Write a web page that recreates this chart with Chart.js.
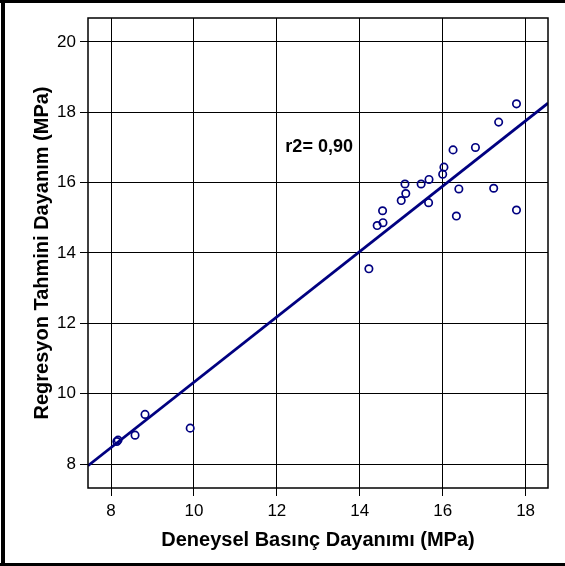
<!DOCTYPE html>
<html>
<head>
<meta charset="utf-8">
<script src="https://cdn.jsdelivr.net/npm/chart.js@4/dist/chart.umd.min.js"></script>
<style>
	html, body { margin: 0; padding: 0; background: #fff; }
	#chart { display: block; }
</style>
</head>
<body>
<canvas id="chart" width="565" height="566"></canvas>
<script>
// measured vs. predicted strength (MPa)
const measured = [8.14, 8.17, 8.58, 8.82, 9.91, 14.22, 14.42, 14.56, 14.55, 15.0, 15.11, 15.09, 15.48, 15.67, 15.66, 16.0, 16.03, 16.25, 16.39, 16.33, 16.79, 17.23, 17.35, 17.78, 17.78]
const predicted = [8.64, 8.68, 8.82, 9.41, 9.02, 13.55, 14.78, 14.86, 15.2, 15.49, 15.69, 15.96, 15.96, 16.09, 15.43, 16.24, 16.44, 16.93, 15.82, 15.05, 17.0, 15.84, 17.72, 18.24, 15.22]

// regression line end points
const fitX = [7.445, 18.54]
const fitY = [7.95, 18.26]

const xTicks = [8, 10, 12, 14, 16, 18]
const yTicks = [8, 10, 12, 14, 16, 18, 20]

const xTitle = 'Deneysel Basınç Dayanımı (MPa)'
const yTitle = 'Regresyon Tahmini Dayanım (MPa)'
const r2Label = 'r2= 0,90'
const r2Pos = [13.02, 17.01]

const navy = '#000080'
const fontFamily = "Arial, 'Liberation Sans', sans-serif"

const framePlugin = {
	id: 'frame',
	afterDatasetsDraw(chart) {
		const { ctx, chartArea: a, scales } = chart
		ctx.save()
		ctx.strokeStyle = '#000'
		ctx.lineWidth = 1.5
		ctx.strokeRect(a.left, a.top, a.right - a.left, a.bottom - a.top)

		ctx.fillStyle = '#000'
		ctx.font = 'bold 18px ' + fontFamily
		ctx.textAlign = 'center'
		ctx.textBaseline = 'middle'
		ctx.fillText(r2Label, scales.x.getPixelForValue(r2Pos[0]), scales.y.getPixelForValue(r2Pos[1]))

		// outer picture border (left, top, bottom)
		ctx.fillRect(0, 0, chart.width, 3)
		ctx.fillRect(1, 0, 4, chart.height)
		ctx.fillRect(0, chart.height - 3, chart.width, 3)
		ctx.restore()
	},
}

const axisTicks = (values) => (scale) => {
	scale.ticks = values.map((v) => ({ value: v }))
}

new Chart(document.getElementById('chart').getContext('2d'), {
	type: 'scatter',
	data: {
		datasets: [
			{
				type: 'line',
				data: fitX.map((x, i) => ({ x: x, y: fitY[i] })),
				borderColor: navy,
				borderWidth: 2.8,
				pointRadius: 0,
				fill: false,
				order: 0,
			},
			{
				data: measured.map((x, i) => ({ x: x, y: predicted[i] })),
				pointStyle: 'circle',
				pointRadius: 3.7,
				pointBorderWidth: 1.7,
				pointBorderColor: navy,
				pointBackgroundColor: 'rgba(0,0,0,0)',
				order: 1,
			},
		],
	},
	options: {
		responsive: false,
		animation: false,
		devicePixelRatio: 1,
		layout: { padding: { top: 18, right: 17, left: 30, bottom: 14 } },
		plugins: { legend: { display: false }, tooltip: { enabled: false } },
		scales: {
			x: {
				type: 'linear',
				min: 7.445,
				max: 18.54,
				afterBuildTicks: axisTicks(xTicks),
				afterFit(scale) {
					scale.height = 64
				},
				grid: { color: '#000', lineWidth: 1, tickLength: 8 },
				border: { display: false },
				ticks: { color: '#000', font: { family: fontFamily, size: 17 }, padding: 5, maxRotation: 0 },
				title: {
					display: true,
					text: xTitle,
					color: '#000',
					padding: 0,
					font: { family: fontFamily, size: 20, weight: 'bold' },
				},
			},
			y: {
				type: 'linear',
				min: 7.318,
				max: 20.68,
				afterBuildTicks: axisTicks(yTicks),
				afterFit(scale) {
					scale.width = 58
				},
				grid: { color: '#000', lineWidth: 1, tickLength: 8 },
				border: { display: false },
				ticks: { color: '#000', font: { family: fontFamily, size: 17 }, padding: 4 },
				title: {
					display: true,
					text: yTitle,
					color: '#000',
					padding: 0,
					font: { family: fontFamily, size: 20, weight: 'bold' },
				},
			},
		},
	},
	plugins: [framePlugin],
})
</script>
</body>
</html>
